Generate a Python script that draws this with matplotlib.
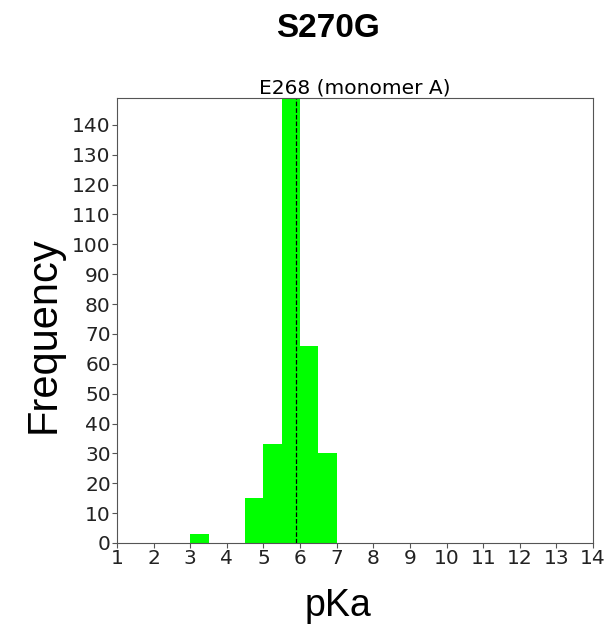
import numpy as np
import matplotlib
matplotlib.use('Agg')
import matplotlib.pyplot as plt

# histogram of pKa values, bin width 0.5
bin_left = [3.0, 4.5, 5.0, 5.5, 6.0, 6.5]
bin_count = [3, 15, 33, 153, 66, 30]
mean_pka = 5.89

x_ticks = list(range(1, 15))
y_ticks = list(range(0, 150, 10))

fig = plt.figure(figsize=(6.07, 6.31), dpi=100)
ax = fig.add_axes([0.1928, 0.1395, 0.7842, 0.7052])

ax.bar(bin_left, bin_count, width=0.5, align='edge', color='#00ff00', linewidth=0)
ax.axvline(mean_pka, color='black', linestyle='--', linewidth=0.9)

ax.set_xlim(1, 14)
ax.set_ylim(0, 149)
ax.set_xticks(x_ticks)
ax.set_yticks(y_ticks)
ax.tick_params(labelsize=14.5, labelcolor='#222222', color='#555555', length=3.5, pad=1)
for s in ax.spines.values():
    s.set_color('#555555')

ax.set_title('E268 (monomer A)', fontsize=14.5, pad=2)
fig.text(0.54, 0.955, 'S270G', ha='center', va='center', fontsize=24,
         fontweight='bold', family='Liberation Sans')
fig.text(0.072, 0.47, 'Frequency', ha='center', va='center', fontsize=30,
         rotation=90, family='Liberation Sans')
fig.text(0.556, 0.04, 'pKa', ha='center', va='center', fontsize=27,
         family='Liberation Sans')

plt.savefig('out.png', dpi=100)
